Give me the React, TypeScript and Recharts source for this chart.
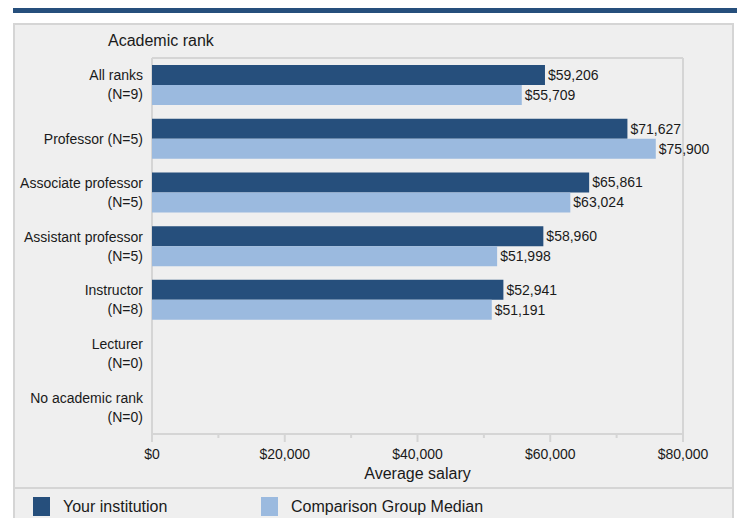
import { BarChart, Bar, XAxis, YAxis, CartesianGrid, LabelList, Legend } from 'recharts';

const ranks = [
  'All ranks\n(N=9)',
  'Professor (N=5)',
  'Associate professor\n(N=5)',
  'Assistant professor\n(N=5)',
  'Instructor\n(N=8)',
  'Lecturer\n(N=0)',
  'No academic rank\n(N=0)',
];
const institution = [59206, 71627, 65861, 58960, 52941, null, null];
const comparison = [55709, 75900, 63024, 51998, 51191, null, null];
const seriesNames = ['Your institution', 'Comparison Group Median'];
const xTicks = [0, 10000, 20000, 30000, 40000, 50000, 60000, 70000, 80000];
const gridValues = [0, 20000, 40000, 60000, 80000];

const DARK = '#264f7c';
const LIGHT = '#9bbadf';
const GRID = '#d5d5d5';
const INK = '#1a1a1a';

const money = (v: any) => (v == null || v === '' ? '' : `$${Number(v).toLocaleString('en-US')}`);

const data = ranks.map((rank, i) => ({ rank, institution: institution[i], comparison: comparison[i] }));

function RankTick({ x, y, payload }: any) {
  const lines = String(payload.value).split('\n');
  const start = y - ((lines.length - 1) * 19) / 2 + 5;
  return (
    <text x={x} y={start} textAnchor="end" fontSize={14} fill={INK}>
      {lines.map((l, i) => (
        <tspan key={i} x={x} y={start + i * 19}>{l}</tspan>
      ))}
    </text>
  );
}

function SalaryTick({ x, y, payload }: any) {
  const major = payload.value % 20000 === 0;
  return (
    <g>
      <line x1={x} x2={x} y1={y} y2={y + (major ? 8 : 4)} stroke={GRID} strokeWidth={2} />
      {major && (
        <text x={x} y={y + 25} textAnchor="middle" fontSize={14} fill={INK}>{money(payload.value)}</text>
      )}
    </g>
  );
}

function LegendBox({ payload }: any) {
  const spots = [33, 261];
  const items = seriesNames
    .map((n) => (payload || []).find((p: any) => p.value === n))
    .filter(Boolean);
  return (
    <div style={{ position: 'relative', height: 22 }}>
      {items.map((p: any, i: number) => (
        <div key={p.value} style={{ position: 'absolute', left: spots[i], top: 0, display: 'flex', alignItems: 'center' }}>
          <span style={{ display: 'inline-block', width: 17, height: 19, background: p.color }} />
          <span style={{ marginLeft: 13, fontSize: 16, color: INK }}>{p.value}</span>
        </div>
      ))}
    </div>
  );
}

export default function App() {
  return (
    <div style={{ position: 'absolute', left: 0, top: 0, width: 737, height: 518, overflow: 'hidden', background: '#fff', fontFamily: '"Liberation Sans", Arial, sans-serif' }}>
      <div style={{ position: 'absolute', left: 13, top: 8, width: 724, height: 5, background: DARK }} />
      <div style={{ position: 'absolute', left: 13, top: 23, width: 721, height: 520, boxSizing: 'border-box', border: `2px solid ${GRID}`, background: '#efefef' }} />
      <div style={{ position: 'absolute', left: 13, top: 487, width: 721, height: 2, background: GRID }} />
      <div style={{ position: 'absolute', left: 108, top: 32, fontSize: 16, color: INK }}>Academic rank</div>
      <div style={{ position: 'absolute', left: 0, top: 0 }}>
        <BarChart
          layout="vertical" width={737} height={518} data={data}
          margin={{ top: 58, right: 54, bottom: 0, left: 0 }}
          barSize={20} barGap={0}
        >
          <CartesianGrid
            xAxisId="grid" stroke={GRID} strokeWidth={2}
            horizontalCoordinatesGenerator={({ offset }: any) => [offset.top]}
          />
          <XAxis xAxisId="grid" type="number" domain={[0, 80000]} ticks={gridValues} hide />
          <XAxis
            type="number" domain={[0, 80000]} ticks={xTicks} interval={0} height={84}
            axisLine={{ stroke: GRID, strokeWidth: 2 }} tickLine={false} tickSize={0} tickMargin={0}
            tick={<SalaryTick />}
            label={{ value: 'Average salary', position: 'insideTop', offset: 34, fontSize: 16, fill: INK }}
          />
          <YAxis
            type="category" dataKey="rank" width={152}
            axisLine={false} tickLine={false} tickSize={0} tickMargin={9}
            tick={<RankTick />} interval={0}
          />
          <Legend
            layout="horizontal" verticalAlign="middle" align="center"
            wrapperStyle={{ left: 0, top: 497, width: 737 }}
            content={<LegendBox />}
          />
          <Bar dataKey="institution" name={seriesNames[0]} fill={DARK} isAnimationActive={false}>
            <LabelList dataKey="institution" position="right" offset={3} formatter={money} fontSize={14} fill={INK} />
          </Bar>
          <Bar dataKey="comparison" name={seriesNames[1]} fill={LIGHT} isAnimationActive={false}>
            <LabelList dataKey="comparison" position="right" offset={3} formatter={money} fontSize={14} fill={INK} />
          </Bar>
        </BarChart>
      </div>
    </div>
  );
}
